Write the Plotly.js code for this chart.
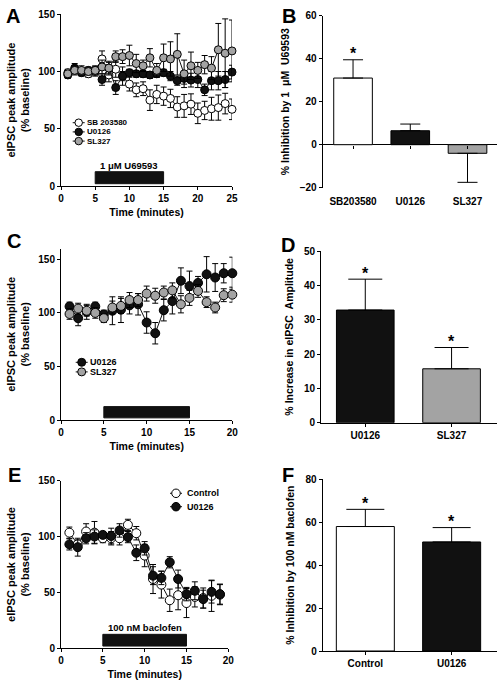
<!DOCTYPE html>
<html><head><meta charset="utf-8">
<script src="https://cdn.plot.ly/plotly-3.0.1.min.js"></script>
<style>html,body{margin:0;padding:0;background:#fff}#chart{width:503px;height:685px}</style>
</head><body><div id="chart"></div>
<script>
// ---------- DATA ----------
const timeA = [1,2,3,4,5,6,7,8,9,10,11,12,13,14,15,16,17,18,19,20,21,22,23,24,25];
const sbA = [99,101,100,98,100,111,97,102,96,89,84,85,75,80,78.5,76.5,69,70,71.5,63.5,66,67.5,68.5,72,67];
const sbAErr = [3,3,3,3,4,7,6,7,8,6,6,6,9,8,8,8,9,10,9,9,8,10,11,9,9];
const u0126A = [97,103,99,101,101,93,103,86,96,99,98,98,97,98,99,96,92,94,92.5,93,84,92,92,93,99.5];
const u0126AErr = [3,4,3,3,3,5,5,6,4,3,3,3,3,3,3,4,4,5,6,7,5,8,8,7,6];
const sl327A = [98,101,101,100,101,104,103,113,113,114,107,105,112,101,112,111,115,98,105,101,106,103,119,116,118];
const sl327AErr = [3,4,4,3,4,6,6,5,6,9,8,5,8,6,12,15,18,12,12,7,8,10,23,30,27];

const timeC = [1,2,3,4,5,6,7,8,9,10,11,12,13,14,15,16,17,18,19,20];
const u0126C = [106,95,101,106,98.5,102,103,107,108,91,81,102.5,111,130,125,128,136,133,137,137];
const u0126CErr = [4,7,7,4,4,13,12,8,10,10,10,10,12,12,14,6,16.5,13,9,15];
const sl327C = [99,104,102,100,95,105,106.5,112,112,118,116,119,121,108,114,120.5,110,105,116.5,117];
const sl327CErr = [5,5,5,5,4,6,7,7,6,7,7,6,7,8,7,6,5,5,6,7];

const timeE = [1,2,3,4,5,6,7,8,9,10,11,12,13,14,15,16,17,18,19];
const controlE = [103.5,93,104.5,103.5,98.5,98.5,98.5,110.5,103,83,62,57,43,47.5,40.5,46,45,47,48];
const controlEErr = [5,4,7,10,4,6,6,5,6,10,13,12,10,13,13,9,9,14,9];
const u0126E = [93,90.5,98.5,100,101.5,100.5,105.5,99.5,85.5,89.5,65,63,77,62,48.5,51.5,44,50.5,48.5];
const u0126EErr = [5,8,5,6,3,7,6,5,7,6,8,6,5,8,6,8,8,10,9];

const catB = ['SB203580','U0126','SL327'];
const valB = [31,6.5,-4];
const errB = [8.5,3.1,13.5];
const catD = ['U0126','SL327'];
const valD = [32.8,15.7];
const errD = [9,6.2];
const catF = ['Control','U0126'];
const valF = [58,50.8];
const errF = [8,6.7];

const drugWindow = [5,15];
const drugLabelA = '1 \u03bcM U69593';
const drugLabelE = '100 nM baclofen';

// ---------- LAYOUT HELPERS ----------
const W = 503, H = 685;
const FAM = 'Liberation Sans, Arial, sans-serif';
const px = x => x / W;
const py = y => 1 - y / H;
const BLACK = '#000';
const GRAY = '#a3a3a3';

function axisBase(extra) {
  return Object.assign({
    showline: true, linecolor: BLACK, linewidth: 1,
    ticks: 'outside', ticklen: 3, tickwidth: 1, tickcolor: BLACK,
    showgrid: false, zeroline: false, fixedrange: true,
    tickfont: {family: FAM, size: 10, weight: 'bold', color: BLACK}
  }, extra);
}
function err(arr, w) {
  return {type: 'data', array: arr, visible: true, color: BLACK, thickness: 1, width: w};
}
function lineTrace(x, y, e, fill, xa, ya, name, size) {
  return {
    type: 'scatter', mode: 'lines+markers', x: x, y: y, name: name,
    xaxis: xa, yaxis: ya, showlegend: false, cliponaxis: false,
    line: {color: '#111', width: 1},
    marker: {symbol: 'circle', size: size, color: fill, line: {color: BLACK, width: 1}},
    error_y: err(e, 3)
  };
}
function oneSided(vals, errs, w) {
  return {
    type: 'data', symmetric: false, visible: true, color: BLACK, thickness: 1, width: w,
    array: vals.map((v, i) => v >= 0 ? errs[i] : 0),
    arrayminus: vals.map((v, i) => v < 0 ? errs[i] : 0)
  };
}
function barTrace(cats, vals, errs, colors, xa, ya, width, capw) {
  return {
    type: 'bar', x: cats, y: vals, xaxis: xa, yaxis: ya, showlegend: false,
    width: width, marker: {color: colors, line: {color: BLACK, width: 1}},
    error_y: oneSided(vals, errs, capw)
  };
}

// ---------- TRACES ----------
const traces = [
  lineTrace(timeA, sbA, sbAErr, '#fff', 'x', 'y', 'SB 203580', 8),
  lineTrace(timeA, u0126A, u0126AErr, '#111', 'x', 'y', 'U0126', 8),
  lineTrace(timeA, sl327A, sl327AErr, GRAY, 'x', 'y', 'SL327', 8),
  barTrace(catB, valB, errB, ['#fff', '#111', GRAY], 'x2', 'y2', 0.675, 10),
  {type: 'scatter', mode: 'markers', x: catB, y: valB, xaxis: 'x7', yaxis: 'y2',
   marker: {opacity: 0, size: 1}, hoverinfo: 'skip', showlegend: false},
  lineTrace(timeC, u0126C, u0126CErr, '#111', 'x3', 'y3', 'U0126', 9),
  lineTrace(timeC, sl327C, sl327CErr, GRAY, 'x3', 'y3', 'SL327', 9),
  barTrace(catD, valD, errD, ['#111', GRAY], 'x4', 'y4', 0.668, 17),
  lineTrace(timeE, controlE, controlEErr, '#fff', 'x5', 'y5', 'Control', 9),
  lineTrace(timeE, u0126E, u0126EErr, '#111', 'x5', 'y5', 'U0126', 9),
  barTrace(catF, valF, errF, ['#fff', '#111'], 'x6', 'y6', 0.672, 19)
];

// ---------- AXES ----------
const yTitleLine = txt => ({text: txt, font: {family: FAM, size: 11, weight: 'bold', color: BLACK}, standoff: 6});
const yTitleBar = txt => ({text: txt, font: {family: FAM, size: 10.5, weight: 'bold', color: BLACK}, standoff: 8});
const xTitle = {text: 'Time (minutes)', font: {family: FAM, size: 10.5, weight: 'bold', color: BLACK}, standoff: 5};

const domB = [py(187.7), py(15.7)];
const rangeB = [-20, 60];
const zeroPosB = domB[0] + (0 - rangeB[0]) / (rangeB[1] - rangeB[0]) * (domB[1] - domB[0]);

const layout = {
  width: W, height: H, margin: {l: 0, r: 0, t: 0, b: 0},
  paper_bgcolor: '#fff', plot_bgcolor: 'rgba(0,0,0,0)',
  font: {family: FAM, size: 10, color: BLACK, weight: 'bold'},
  showlegend: false,
  // A
  xaxis: axisBase({domain: [px(61), px(232)], anchor: 'y', range: [0, 25], tick0: 0, dtick: 5, title: xTitle}),
  yaxis: axisBase({domain: [py(186), py(14.3)], anchor: 'x', range: [0, 150], tick0: 0, dtick: 50,
    title: yTitleLine('eIPSC peak amplitude<br>(% baseline)')}),
  // B
  xaxis2: axisBase({domain: [px(322.7), px(496.7)], anchor: 'y2', type: 'category', range: [-0.53, 2.51],
    showline: false, ticks: '', ticklabelstandoff: 6}),
  yaxis2: axisBase({domain: domB, anchor: 'x2', range: rangeB, tick0: -20, dtick: 20,
    zeroline: true, zerolinecolor: BLACK, zerolinewidth: 1,
    title: yTitleBar('% Inhibition by 1\u00a0\u00a0\u03bcM\u00a0\u00a0U69593')}),
  xaxis7: axisBase({overlaying: 'x2', anchor: 'free', position: zeroPosB, type: 'category',
    range: [-0.53, 2.51], showline: false, showticklabels: false, ticks: 'outside', ticklen: 3}),
  // C
  xaxis3: axisBase({domain: [px(61), px(232.3)], anchor: 'y3', range: [0, 20], tick0: 0, dtick: 5, title: xTitle}),
  yaxis3: axisBase({domain: [py(420), py(248.6)], anchor: 'x3', range: [0, 160], tickvals: [0, 50, 100, 150],
    title: yTitleLine('eIPSC peak amplitude<br>(% baseline)')}),
  // D
  xaxis4: axisBase({domain: [px(321), px(496.7)], anchor: 'y4', type: 'category', range: [-0.513, 1.523]}),
  yaxis4: axisBase({domain: [py(422.7), py(251)], anchor: 'x4', range: [0, 50], tick0: 0, dtick: 10,
    title: yTitleBar('% Increase in eIPSC\u00a0\u00a0Amplitude')}),
  // E
  xaxis5: axisBase({domain: [px(61), px(228.3)], anchor: 'y5', range: [0, 20], tick0: 0, dtick: 5, title: xTitle}),
  yaxis5: axisBase({domain: [py(648.3), py(480.7)], anchor: 'x5', range: [0, 150], tick0: 0, dtick: 50,
    title: yTitleLine('eIPSC peak amplitude<br>(% baseline)')}),
  // F
  xaxis6: axisBase({domain: [px(322.7), px(496.7)], anchor: 'y6', type: 'category', range: [-0.494, 1.522]}),
  yaxis6: axisBase({domain: [py(651), py(479.3)], anchor: 'x6', range: [0, 80], tick0: 0, dtick: 20,
    title: yTitleBar('% Inhibition by 100 nM baclofen')}),
  shapes: [],
  annotations: []
};

// drug application bars
[['x', 'y'], ['x3', 'y3'], ['x5', 'y5']].forEach(([xa, ya]) => {
  layout.shapes.push({type: 'rect', xref: xa, yref: ya, x0: drugWindow[0], x1: drugWindow[1],
    y0: 2, y1: 12.5, fillcolor: '#111', line: {color: '#111', width: 1}, layer: 'above'});
});
const midDrug = (drugWindow[0] + drugWindow[1]) / 2;
layout.annotations.push({xref: 'x', yref: 'y', x: midDrug, y: 12.5, yanchor: 'bottom', showarrow: false,
  text: drugLabelA, font: {family: FAM, size: 9.5, weight: 'bold', color: BLACK}, yshift: -1});
layout.annotations.push({xref: 'x5', yref: 'y5', x: midDrug, y: 12.5, yanchor: 'bottom', showarrow: false,
  text: drugLabelE, font: {family: FAM, size: 9.5, weight: 'bold', color: BLACK}, yshift: -1});

// significance asterisks
function stars(cats, vals, errs, xa, ya) {
  cats.forEach((c, i) => layout.annotations.push({xref: xa, yref: ya, x: c, y: vals[i] + errs[i],
    yanchor: 'middle', yshift: 6, showarrow: false, text: '*',
    font: {family: FAM, size: 16, weight: 'bold', color: BLACK}}));
}
stars([catB[0]], [valB[0]], [errB[0]], 'x2', 'y2');
stars(catD, valD, errD, 'x4', 'y4');
stars(catF, valF, errF, 'x6', 'y6');

// panel letters
[['A', 13, 16], ['B', 288.7, 16], ['C', 14, 240.5], ['D', 288, 245.5], ['E', 14, 475], ['F', 287.5, 475]]
  .forEach(([t, x, y]) => layout.annotations.push({xref: 'paper', yref: 'paper', x: px(x), y: py(y),
    xanchor: 'center', yanchor: 'middle', showarrow: false, text: t,
    font: {family: FAM, size: 20, weight: 'bold', color: BLACK}}));

// compact legends (symbol + label)
function legend(items, mx, tx, rows, size, fs) {
  items.forEach(([label, fill], i) => {
    const r = size / 2;
    layout.shapes.push({type: 'line', xref: 'paper', yref: 'paper', x0: px(mx - 6), x1: px(mx + 6),
      y0: py(rows[i]), y1: py(rows[i]), line: {color: '#111', width: 1}});
    layout.shapes.push({type: 'circle', xref: 'paper', yref: 'paper', x0: px(mx - r), x1: px(mx + r),
      y0: py(rows[i] + r), y1: py(rows[i] - r), fillcolor: fill, line: {color: BLACK, width: 1}});
    layout.annotations.push({xref: 'paper', yref: 'paper', x: px(tx), y: py(rows[i]),
      xanchor: 'left', yanchor: 'middle', showarrow: false, text: label,
      font: {family: FAM, size: fs, weight: 'bold', color: BLACK}});
  });
}
legend([['SB 203580', '#fff'], ['U0126', '#111'], ['SL327', GRAY]], 78.7, 85, [122.7, 131.9, 141.1], 7.5, 8);
legend([['U0126', '#111'], ['SL327', GRAY]], 81.7, 88, [362.3, 371.9], 8, 9);
legend([['Control', '#fff'], ['U0126', '#111']], 176, 185, [493.3, 506.7], 8.5, 9);

Plotly.newPlot('chart', traces, layout, {staticPlot: true, displayModeBar: false});
</script>
</body></html>
